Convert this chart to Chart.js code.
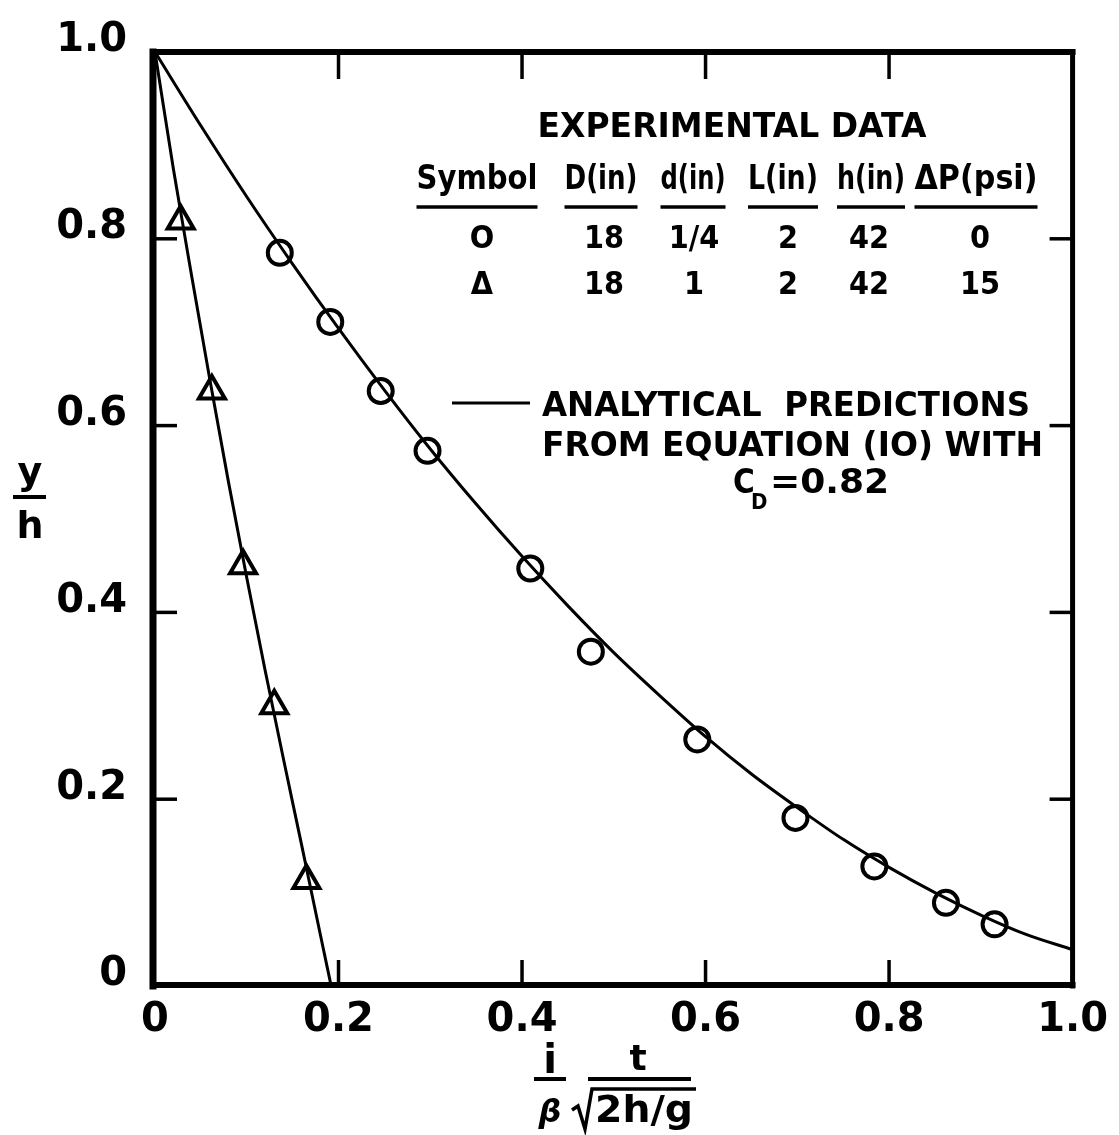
<!DOCTYPE html>
<html>
<head>
<meta charset="utf-8">
<script src="https://cdn.jsdelivr.net/npm/chart.js@4/dist/chart.umd.min.js"></script>
<style>
  html, body { margin: 0; padding: 0; background: #fff; }
  canvas { display: block; }
</style>
</head>
<body>
<canvas id="c" width="1119" height="1135"></canvas>
<script>
// Dimensionless time (i/beta * t/sqrt(2h/g)) vs. relative head y/h
const xTickLabels = ['0', '0.2', '0.4', '0.6', '0.8', '1.0'];
const yTickLabels = ['0', '0.2', '0.4', '0.6', '0.8', '1.0'];

// Measured points, d = 1/4 in, dP = 0 psi (circles)
const circleX = [0.136, 0.191, 0.246, 0.297, 0.409, 0.475, 0.591, 0.698, 0.784, 0.862, 0.915];
const circleY = [0.785, 0.711, 0.637, 0.573, 0.447, 0.358, 0.264, 0.180, 0.128, 0.089, 0.066];

// Measured points, d = 1 in, dP = 15 psi (triangles)
const triX = [0.028, 0.062, 0.096, 0.130, 0.165];
const triY = [0.819, 0.637, 0.450, 0.300, 0.113];

// Analytical prediction curves, Eq. (10) with C_D = 0.82
const predAX = [0, 0.05, 0.10, 0.15, 0.20, 0.25, 0.30, 0.35, 0.40, 0.45, 0.50, 0.55, 0.60, 0.65, 0.70, 0.75, 0.80, 0.85, 0.90, 0.95, 1.00];
const predAY = [1.0, 0.921, 0.845, 0.773, 0.704, 0.638, 0.575, 0.516, 0.460, 0.407, 0.357, 0.311, 0.267, 0.227, 0.191, 0.157, 0.127, 0.100, 0.076, 0.055, 0.039];
const predBX = [0, 0.02, 0.04, 0.06, 0.08, 0.10, 0.12, 0.14, 0.16, 0.18, 0.192];
const predBY = [1.0, 0.875, 0.760, 0.648, 0.540, 0.437, 0.338, 0.243, 0.150, 0.056, 0.0];

// Table of test conditions
const tableTitle = 'EXPERIMENTAL DATA';
const tableHeaders = ['Symbol', 'D(in)', 'd(in)', 'L(in)', 'h(in)', '\u0394P(psi)'];
const tableRows = [
  ['O', '18', '1/4', '2', '42', '0'],
  ['\u0394', '18', '1', '2', '42', '15']
];
const predLines = ['ANALYTICAL  PREDICTIONS', 'FROM EQUATION (IO) WITH'];
const cdLabel = ['C', 'D', '=0.82'];

const pts = (xs, ys) => xs.map((x, i) => ({ x, y: ys[i] }));

const FONT = '"DejaVu Sans", "Liberation Sans", sans-serif';
const FONT_C = '"DejaVu Sans Condensed", "DejaVu Sans", sans-serif';

function fitText(ctx, text, x, y, width, font, align) {
  ctx.save();
  ctx.font = font;
  ctx.textBaseline = 'alphabetic';
  const w = ctx.measureText(text).width;
  const sx = width ? width / w : 1;
  const tw = w * sx;
  let left = x;
  if (align === 'center' || !align) left = x - tw / 2;
  else if (align === 'right') left = x - tw;
  ctx.translate(left, y);
  ctx.scale(sx, 1);
  ctx.textAlign = 'left';
  ctx.fillText(text, 0, 0);
  ctx.restore();
}

const framePlugin = {
  id: 'frame',
  afterDatasetsDraw(chart) {
    const ctx = chart.ctx;
    const a = chart.chartArea;
    const xs = chart.scales.x, ys = chart.scales.y;
    ctx.save();
    ctx.strokeStyle = '#000';
    ctx.lineCap = 'square';
    const edge = (x1, y1, x2, y2, w) => {
      ctx.lineWidth = w;
      ctx.beginPath(); ctx.moveTo(x1, y1); ctx.lineTo(x2, y2); ctx.stroke();
    };
    // frame
    edge(a.left - 2, a.top, a.left - 2, a.bottom, 7);
    edge(a.left, a.bottom - 1, a.right, a.bottom - 1, 6);
    edge(a.left, a.top, a.right, a.top, 6);
    edge(a.right, a.top, a.right, a.bottom, 5);
    // inward tick marks on all four sides
    ctx.lineCap = 'butt';
    xs.ticks.forEach(t => {
      if (t.value <= xs.min || t.value >= xs.max) return;
      const px = xs.getPixelForValue(t.value);
      edge(px, a.bottom, px, a.bottom - 26, 3.5);
      edge(px, a.top, px, a.top + 27, 3.5);
    });
    ys.ticks.forEach(t => {
      if (t.value <= ys.min || t.value >= ys.max) return;
      const py = ys.getPixelForValue(t.value);
      edge(a.left, py, a.left + 22, py, 3.5);
      edge(a.right, py, a.right - 23, py, 3.5);
    });
    ctx.restore();
  },
  afterDraw(chart) {
    const ctx = chart.ctx;
    ctx.save();
    ctx.fillStyle = '#000';
    ctx.strokeStyle = '#000';

    // table title and headers
    fitText(ctx, tableTitle, 732, 137, 389, 'bold 34px ' + FONT);
    const colX = [477, 601, 693, 783, 871, 976];
    const colW = [121, 73, 65, 70, 68, 123];
    tableHeaders.forEach((h, i) => {
      fitText(ctx, h, colX[i], 189, colW[i], 'bold 33px ' + FONT_C);
      ctx.lineWidth = 3.5;
      ctx.beginPath();
      ctx.moveTo(colX[i] - colW[i] / 2, 207);
      ctx.lineTo(colX[i] + colW[i] / 2, 207);
      ctx.stroke();
    });
    const rowX = [482, 604, 694, 788, 869, 980];
    const rowBase = [248, 294];
    tableRows.forEach((row, r) => {
      row.forEach((v, i) => {
        fitText(ctx, v, rowX[i], rowBase[r], null, 'bold 32px ' + FONT_C);
      });
    });

    // prediction legend entry
    ctx.lineWidth = 3;
    ctx.beginPath(); ctx.moveTo(452, 403); ctx.lineTo(530, 403); ctx.stroke();
    fitText(ctx, predLines[0], 542, 416, 488, 'bold 33px ' + FONT_C, 'left');
    fitText(ctx, predLines[1], 542, 456, 501, 'bold 33px ' + FONT_C, 'left');
    fitText(ctx, cdLabel[0], 733, 493, null, 'bold 33px ' + FONT_C, 'left');
    fitText(ctx, cdLabel[1], 751, 509, null, 'bold 22px ' + FONT_C, 'left');
    fitText(ctx, cdLabel[2], 770, 493, 119, 'bold 33px ' + FONT_C, 'left');

    // y-axis title: y / h
    fitText(ctx, 'y', 30, 484, null, 'bold 38px ' + FONT);
    ctx.lineWidth = 4;
    ctx.beginPath(); ctx.moveTo(13, 497); ctx.lineTo(46, 497); ctx.stroke();
    fitText(ctx, 'h', 30, 538, null, 'bold 38px ' + FONT);

    // x-axis title: (i/beta) * t / sqrt(2h/g)
    fitText(ctx, 'i', 550, 1073, null, 'bold 40px ' + FONT);
    ctx.beginPath(); ctx.moveTo(534, 1079); ctx.lineTo(566, 1079); ctx.stroke();
    fitText(ctx, '\u03B2', 550, 1122, null, 'italic bold 32px ' + FONT);
    fitText(ctx, 't', 638, 1070, null, 'bold 36px ' + FONT);
    ctx.beginPath(); ctx.moveTo(588, 1079); ctx.lineTo(691, 1079); ctx.stroke();
    ctx.lineWidth = 3.5;
    ctx.beginPath();
    ctx.moveTo(572, 1110); ctx.lineTo(578, 1106); ctx.lineTo(585, 1129);
    ctx.lineTo(592, 1089); ctx.lineTo(696, 1089);
    ctx.stroke();
    fitText(ctx, '2h/g', 644, 1122, 98, 'bold 38px ' + FONT);
    ctx.restore();
  }
};

const tickFont = { family: FONT, size: 40, weight: 'bold' };

new Chart(document.getElementById('c'), {
  type: 'scatter',
  data: {
    datasets: [
      { data: pts(predAX, predAY), showLine: true, borderColor: '#000', borderWidth: 3,
        pointRadius: 0, tension: 0.4, cubicInterpolationMode: 'monotone', fill: false },
      { data: pts(predBX, predBY), showLine: true, borderColor: '#000', borderWidth: 3,
        pointRadius: 0, tension: 0.4, cubicInterpolationMode: 'monotone', fill: false },
      { data: pts(circleX, circleY), showLine: false, pointStyle: 'circle', pointRadius: 12,
        borderColor: '#000', borderWidth: 4, backgroundColor: 'rgba(0,0,0,0)' },
      { data: pts(triX, triY), showLine: false, pointStyle: 'triangle', pointRadius: 15,
        borderColor: '#000', borderWidth: 4, backgroundColor: 'rgba(0,0,0,0)' }
    ]
  },
  options: {
    responsive: false,
    animation: false,
    devicePixelRatio: 1,
    layout: { padding: { top: 43, right: 44, left: 0, bottom: 0 } },
    plugins: { legend: { display: false }, tooltip: { enabled: false } },
    scales: {
      x: {
        type: 'linear', min: 0, max: 1,
        grid: { display: false, drawTicks: false },
        border: { display: false },
        ticks: { stepSize: 0.2, padding: 11, color: '#000', font: tickFont,
                 maxRotation: 0, autoSkip: false,
                 callback: (v, i) => xTickLabels[i] },
        afterFit: s => { s.height = 149; }
      },
      y: {
        type: 'linear', min: 0, max: 1,
        grid: { display: false, drawTicks: false },
        border: { display: false },
        ticks: { stepSize: 0.2, padding: 28, labelOffset: -11, color: '#000', font: tickFont,
                 autoSkip: false,
                 callback: (v, i) => yTickLabels[i] },
        afterFit: s => { s.width = 155; }
      }
    }
  },
  plugins: [framePlugin]
});
</script>
</body>
</html>
